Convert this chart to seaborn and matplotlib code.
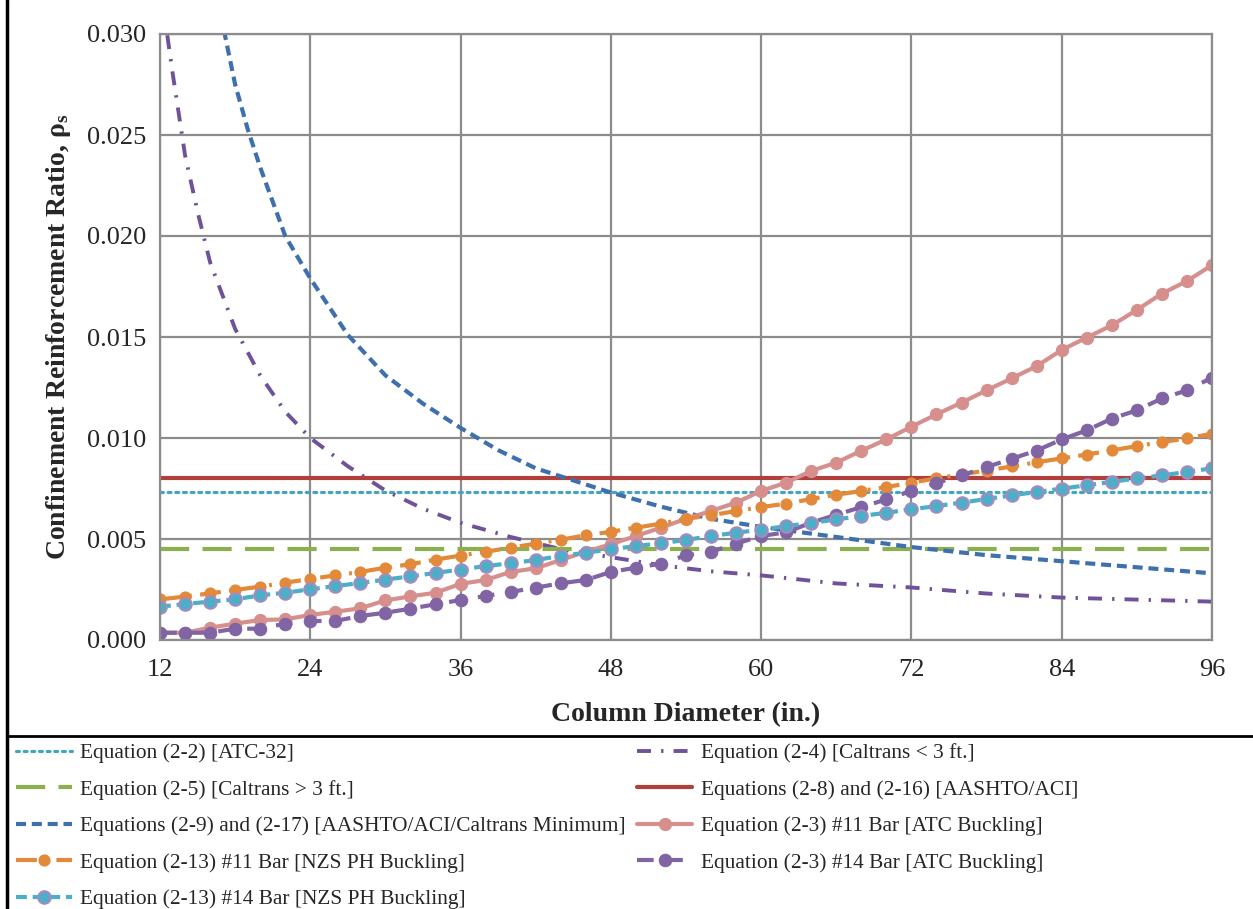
import numpy as np
import pandas as pd
import matplotlib
matplotlib.use("Agg")
import matplotlib.pyplot as plt
from matplotlib.lines import Line2D
import seaborn as sns

# ---------------- data ----------------
diam = [12, 14, 16, 18, 20, 22, 24, 26, 28, 30, 32, 34, 36, 38, 40, 42, 44, 46, 48, 50, 52,
        54, 56, 58, 60, 62, 64, 66, 68, 70, 72, 74, 76, 78, 80, 82, 84, 86, 88, 90, 92, 94, 96]

atc11 = [0.00036, 0.00036, 0.00061, 0.00081, 0.00099, 0.00102, 0.00124, 0.00140, 0.00157, 0.00196,
         0.00216, 0.00234, 0.00278, 0.00297, 0.00337, 0.00355, 0.00396, 0.00437, 0.00474, 0.00515,
         0.00556, 0.00600, 0.00639, 0.00680, 0.00738, 0.00779, 0.00837, 0.00878, 0.00937, 0.00993,
         0.01056, 0.01117, 0.01175, 0.01236, 0.01295, 0.01356, 0.01436, 0.01497, 0.01558, 0.01634,
         0.01715, 0.01777, 0.01856]

atc14 = [0.00036, 0.00036, 0.00036, 0.00056, 0.00056, 0.00081, 0.00094, 0.00094, 0.00119, 0.00135,
         0.00155, 0.00177, 0.00198, 0.00218, 0.00238, 0.00259, 0.00281, 0.00297, 0.00337, 0.00358,
         0.00378, 0.00419, 0.00437, 0.00477, 0.00515, 0.00533, 0.00581, 0.00620, 0.00658, 0.00696,
         0.00738, 0.00777, 0.00815, 0.00856, 0.00897, 0.00938, 0.00993, 0.01038, 0.01096, 0.01137,
         0.01196, 0.01236, 0.01299]

nzs11 = [0.00201, 0.00215, 0.00231, 0.00248, 0.00264, 0.00284, 0.00302, 0.00320, 0.00337, 0.00358,
         0.00375, 0.00398, 0.00418, 0.00437, 0.00457, 0.00477, 0.00497, 0.00518, 0.00536, 0.00556,
         0.00576, 0.00600, 0.00617, 0.00639, 0.00658, 0.00675, 0.00698, 0.00719, 0.00738, 0.00757,
         0.00779, 0.00800, 0.00820, 0.00839, 0.00859, 0.00880, 0.00899, 0.00918, 0.00939, 0.00960,
         0.00980, 0.00998, 0.01021]

nzs14 = [0.00165, 0.00178, 0.00190, 0.00201, 0.00221, 0.00234, 0.00251, 0.00267, 0.00282, 0.00299,
         0.00315, 0.00332, 0.00349, 0.00366, 0.00380, 0.00396, 0.00416, 0.00432, 0.00449, 0.00465,
         0.00479, 0.00495, 0.00515, 0.00531, 0.00546, 0.00564, 0.00579, 0.00597, 0.00614, 0.00630,
         0.00647, 0.00663, 0.00680, 0.00698, 0.00716, 0.00733, 0.00749, 0.00766, 0.00783, 0.00800,
         0.00815, 0.00832, 0.00850]

# Caltrans < 3 ft curve
ct_small_d = [12, 13, 14, 15, 16, 18, 20, 22, 24, 27, 30, 33, 36, 40, 44, 48, 52, 56, 60, 66, 72,
              78, 84, 90, 96]
ct_small_v = [0.0325, 0.0281, 0.0240, 0.0212, 0.0187, 0.0154, 0.0131, 0.0113, 0.0100, 0.0086,
              0.0074, 0.0065, 0.0058, 0.0051, 0.0045, 0.0041, 0.0037, 0.0034, 0.0032, 0.0028,
              0.0026, 0.0023, 0.0021, 0.0020, 0.0019]

# AASHTO/ACI/Caltrans minimum curve
aashto_min_d = [16, 17, 18, 19, 20, 22, 24, 27, 30, 33, 36, 39, 42, 45, 48, 52, 56, 60, 66, 72,
                78, 84, 90, 96]
aashto_min_v = [0.0340, 0.0305, 0.0275, 0.0253, 0.0234, 0.0200, 0.0179, 0.0151, 0.0131, 0.0117,
                0.0105, 0.0094, 0.0085, 0.0079, 0.0073, 0.0066, 0.0060, 0.0056, 0.0051, 0.0046,
                0.0042, 0.0039, 0.0036, 0.0033]

atc32_const = 0.00733
caltrans_large_const = 0.0045
aashto_aci_const = 0.0080

x_ticks = [12, 24, 36, 48, 60, 72, 84, 96]
y_ticks = [0.000, 0.005, 0.010, 0.015, 0.020, 0.025, 0.030]

labels = {
    "atc32": "Equation (2-2) [ATC-32]",
    "ct_small": "Equation (2-4) [Caltrans < 3 ft.]",
    "ct_large": "Equation (2-5) [Caltrans > 3 ft.]",
    "aashto": "Equations (2-8) and (2-16) [AASHTO/ACI]",
    "aashto_min": "Equations (2-9) and (2-17) [AASHTO/ACI/Caltrans Minimum]",
    "atc11": "Equation (2-3) #11 Bar [ATC Buckling]",
    "nzs11": "Equation (2-13) #11 Bar [NZS PH Buckling]",
    "atc14": "Equation (2-3) #14 Bar [ATC Buckling]",
    "nzs14": "Equation (2-13) #14 Bar [NZS PH Buckling]",
}

# ---------------- style ----------------
sns.set_style("white")
plt.rcParams["font.family"] = ["Liberation Serif", "DejaVu Serif"]
plt.rcParams["mathtext.fontset"] = "custom"
plt.rcParams["mathtext.rm"] = "Liberation Serif"
plt.rcParams["mathtext.bf"] = "Liberation Serif:bold"
plt.rcParams["mathtext.it"] = "Liberation Serif:italic"

fig = plt.figure(figsize=(12.53, 9.09), dpi=100)
ax = fig.add_axes([160 / 1253, 1 - 640 / 909, (1212 - 160) / 1253, (640 - 34) / 909])

c_teal = "#45A5BE"
c_green = "#8DB04F"
c_blue = "#3F70AE"
c_purple_dd = "#6F529A"
c_red = "#B1403D"
c_pink = "#D68F8D"
c_orange = "#E3893A"
c_purple = "#8064A4"
c_cyan = "#4BAFC8"

xs_full = [12, 96]

def line(x, y, label, **kw):
    sns.lineplot(x=x, y=y, ax=ax, label=label, sort=True, estimator=None, errorbar=None, **kw)

line(xs_full, [atc32_const] * 2, labels["atc32"], color=c_teal, lw=2.3,
     linestyle=(0, (0.9, 1.5)), dash_capstyle="round")
line(ct_small_d, ct_small_v, labels["ct_small"], color=c_purple_dd, lw=2.8,
     linestyle=(0, (3.6, 2.6, 0.6, 2.6)))
line(xs_full, [caltrans_large_const] * 2, labels["ct_large"], color=c_green, lw=3.0,
     linestyle=(0, (7, 3.2)))
line(xs_full, [aashto_aci_const] * 2, labels["aashto"], color=c_red, lw=3.0, linestyle="-")
line(aashto_min_d, aashto_min_v, labels["aashto_min"], color=c_blue, lw=3.0,
     linestyle=(0, (2.4, 1.4)))
line(diam, atc11, labels["atc11"], color=c_pink, lw=3.0, linestyle="-",
     marker="o", markersize=8.8, markeredgecolor=c_pink, markerfacecolor=c_pink)
line(diam, nzs11, labels["nzs11"], color=c_orange, lw=3.0,
     linestyle=(0, (5, 2.0, 0.7, 2.0)),
     marker="o", markersize=8, markeredgecolor=c_orange, markerfacecolor=c_orange)
line(diam, atc14, labels["atc14"], color=c_purple, lw=3.0, linestyle=(0, (4, 3)),
     marker="o", markersize=9, markeredgecolor=c_purple, markerfacecolor=c_purple)
line(diam, nzs14, labels["nzs14"], color=c_cyan, lw=3.0, linestyle=(0, (2.6, 1.4)),
     marker="o", markersize=9, markeredgecolor="#A48BC0", markeredgewidth=1.5,
     markerfacecolor=c_cyan)

ax.set_xlim(12, 96)
ax.set_ylim(0, 0.030)
ax.set_xticks(x_ticks)
ax.set_yticks(y_ticks)
ax.set_xticklabels([str(v) for v in x_ticks])
ax.set_yticklabels([f"{v:.3f}" for v in y_ticks])
ax.tick_params(axis="both", labelsize=19, length=0, pad=10)
ax.tick_params(axis="x", pad=14)
ax.grid(True, color="#8C8C8C", lw=1.6)
ax.set_axisbelow(True)
for s in ax.spines.values():
    s.set_color("#8C8C8C")
    s.set_linewidth(1.6)

ax.set_xlabel("Column Diameter (in.)", fontsize=20, fontweight="bold", labelpad=15)
ax.set_ylabel(r"Confinement Reinforcement Ratio, $\mathbf{\rho_s}$", fontsize=20,
              fontweight="bold", labelpad=10)

handles, labs = ax.get_legend_handles_labels()
if ax.get_legend() is not None:
    ax.get_legend().remove()
hmap = dict(zip(labs, handles))
order = ["atc32", "ct_large", "aashto_min", "nzs11", "nzs14",
         "ct_small", "aashto", "atc11", "atc14"]
h_ord = [hmap[labels[k]] for k in order]
l_ord = [labels[k] for k in order]
fig.legend(h_ord, l_ord, loc="upper left", bbox_to_anchor=(12 / 1253, 1 - 739 / 909),
           ncol=2, frameon=False, fontsize=15.4, handlelength=2.6, handletextpad=0.4,
           columnspacing=0.5, labelspacing=0.77, borderaxespad=0, borderpad=0.2)

# frame lines (left border and separator above legend)
fig.add_artist(Line2D([7 / 1253, 7 / 1253], [0, 1], color="black", lw=2.5,
                      transform=fig.transFigure))
fig.add_artist(Line2D([7 / 1253, 1], [1 - 736 / 909, 1 - 736 / 909], color="black", lw=2.0,
                      transform=fig.transFigure))

fig.savefig("out.png", dpi=100)
